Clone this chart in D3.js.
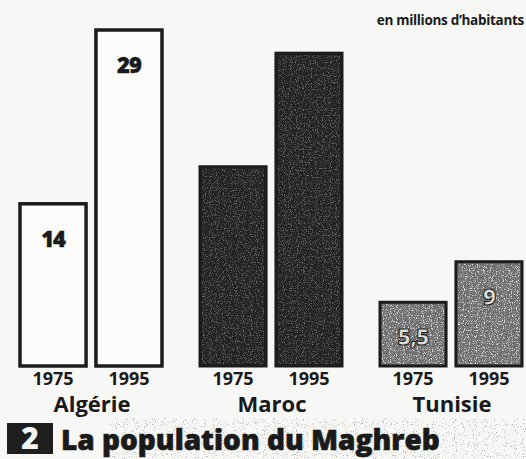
<!DOCTYPE html>
<html>
<head>
<meta charset="utf-8">
<script src="https://cdn.jsdelivr.net/npm/d3@7"></script>
<style>
  html, body { margin: 0; padding: 0; background: #f7f7f5; }
  svg { display: block; }
</style>
</head>
<body>
<div id="chart"></div>
<script>
// data (millions d'habitants)
const countries = ['Algérie', 'Maroc', 'Tunisie'];
const years = ['1975', '1995'];
const pop1975 = [14, 17.2, 5.5];
const pop1995 = [29, 27, 9];
const valueLabels1975 = ['14', null, '5,5'];
const valueLabels1995 = ['29', null, '9'];

const FILLS = { 'Algérie': '#fbfbf9', 'Maroc': '#232323', 'Tunisie': '#6f6f6f' };
const FONT = '"Open Sans", "DejaVu Sans", sans-serif';

const W = 526, H = 459;
const svg = d3.select('#chart').append('svg')
  .attr('width', W).attr('height', H);

// speckle filter for the printed/scanned look
const defs = svg.append('defs');
const f = defs.append('filter').attr('id', 'speckle')
  .attr('x', 0).attr('y', 0).attr('width', 1).attr('height', 1);
f.append('feTurbulence').attr('type', 'fractalNoise')
  .attr('baseFrequency', 0.85).attr('numOctaves', 2).attr('seed', 4).attr('result', 'n');
f.append('feColorMatrix').attr('in', 'n').attr('type', 'matrix')
  .attr('values', '0 0 0 0 1  0 0 0 0 1  0 0 0 0 1  5 0 0 0 -2.6').attr('result', 'w');
f.append('feComposite').attr('in', 'w').attr('in2', 'SourceGraphic').attr('operator', 'in');

const fd = defs.append('filter').attr('id', 'dust')
  .attr('x', 0).attr('y', 0).attr('width', 1).attr('height', 1);
fd.append('feTurbulence').attr('type', 'fractalNoise')
  .attr('baseFrequency', 0.9).attr('numOctaves', 2).attr('seed', 9).attr('result', 'n');
fd.append('feColorMatrix').attr('in', 'n').attr('type', 'matrix')
  .attr('values', '0 0 0 0 0.45  0 0 0 0 0.45  0 0 0 0 0.45  7 0 0 0 -4.3').attr('result', 'w');
fd.append('feComposite').attr('in', 'w').attr('in2', 'SourceGraphic').attr('operator', 'in');

const data = countries.map((c, i) => ({
  country: c,
  bars: [
    { year: years[0], value: pop1975[i], label: valueLabels1975[i] },
    { year: years[1], value: pop1995[i], label: valueLabels1995[i] }
  ]
}));

// scales
const x0 = d3.scaleBand().domain(countries).range([1, 541]).padding(0);
const x1 = d3.scaleBand().domain(years).range([19, 161]).paddingInner(0.13).paddingOuter(0);
const y = d3.scaleLinear().domain([0, 29]).range([366, 30]);

const groups = svg.append('g').selectAll('g.country')
  .data(data).join('g')
  .attr('class', 'country')
  .attr('transform', d => `translate(${x0(d.country)},0)`);

const bars = groups.selectAll('g.bar')
  .data(d => d.bars.map(b => ({ ...b, country: d.country })))
  .join('g').attr('class', 'bar');

bars.append('rect')
  .attr('x', d => x1(d.year))
  .attr('y', d => y(d.value))
  .attr('width', x1.bandwidth())
  .attr('height', d => y(0) - y(d.value))
  .attr('fill', d => FILLS[d.country])
  .attr('stroke', '#1c1c1c')
  .attr('stroke-width', d => d.country === 'Algérie' ? 3.5 : 3);

// texture overlay on shaded bars
bars.filter(d => d.country !== 'Algérie').append('rect')
  .attr('x', d => x1(d.year) + 2)
  .attr('y', d => y(d.value) + 2)
  .attr('width', x1.bandwidth() - 4)
  .attr('height', d => y(0) - y(d.value) - 4)
  .attr('fill', '#fff')
  .attr('opacity', d => d.country === 'Maroc' ? 0.3 : 0.75)
  .attr('filter', 'url(#speckle)');

// values inside bars
bars.filter(d => d.label).append('text')
  .attr('x', d => x1(d.year) + x1.bandwidth() / 2)
  .attr('y', d => y(d.value) + 43)
  .attr('text-anchor', 'middle')
  .attr('font-family', FONT).attr('font-weight', 800)
  .attr('font-size', d => d.country === 'Tunisie' ? 23 : 22)
  .attr('letter-spacing', -1)
  .attr('fill', d => d.country === 'Tunisie' ? '#dcdcdc' : '#1a1a1a')
  .attr('stroke', d => d.country === 'Tunisie' ? '#2a2a2a' : '#1a1a1a')
  .attr('stroke-width', d => d.country === 'Tunisie' ? 1.2 : 0.4)
  .text(d => d.label);

// year labels
bars.append('text')
  .attr('x', d => x1(d.year) + x1.bandwidth() / 2)
  .attr('y', 385)
  .attr('text-anchor', 'middle')
  .attr('font-family', FONT).attr('font-weight', 700)
  .attr('font-size', 18).attr('fill', '#1a1a1a')
  .text(d => d.year);

// country labels
groups.append('text')
  .attr('x', x0.bandwidth() / 2 + 1)
  .attr('y', 412)
  .attr('text-anchor', 'middle')
  .attr('font-family', FONT).attr('font-weight', 700)
  .attr('font-size', 22).attr('fill', '#1a1a1a')
  .text(d => d.country);

// unit
svg.append('text')
  .attr('x', 524).attr('y', 25)
  .attr('text-anchor', 'end')
  .attr('font-family', FONT).attr('font-weight', 700)
  .attr('font-size', 13.5).attr('letter-spacing', -0.3)
  .attr('fill', '#1a1a1a')
  .text('en millions d\u2019habitants');

// title band with scan dust
svg.append('rect')
  .attr('x', 110).attr('y', 418).attr('width', 416).attr('height', 41)
  .attr('fill', '#fff').attr('filter', 'url(#dust)');

svg.append('rect')
  .attr('x', 7).attr('y', 423).attr('width', 46).attr('height', 31)
  .attr('fill', '#1e1e1e');
svg.append('text')
  .attr('x', 30).attr('y', 449)
  .attr('text-anchor', 'middle')
  .attr('font-family', FONT).attr('font-weight', 800)
  .attr('font-size', 30).attr('fill', '#f4f4f2')
  .text('2');

svg.append('text')
  .attr('x', 61).attr('y', 450)
  .attr('font-family', FONT).attr('font-weight', 800)
  .attr('font-size', 28).attr('fill', '#1a1a1a')
  .attr('stroke', '#1a1a1a').attr('stroke-width', 0.6)
  .text('La population du Maghreb');
</script>
</body>
</html>
